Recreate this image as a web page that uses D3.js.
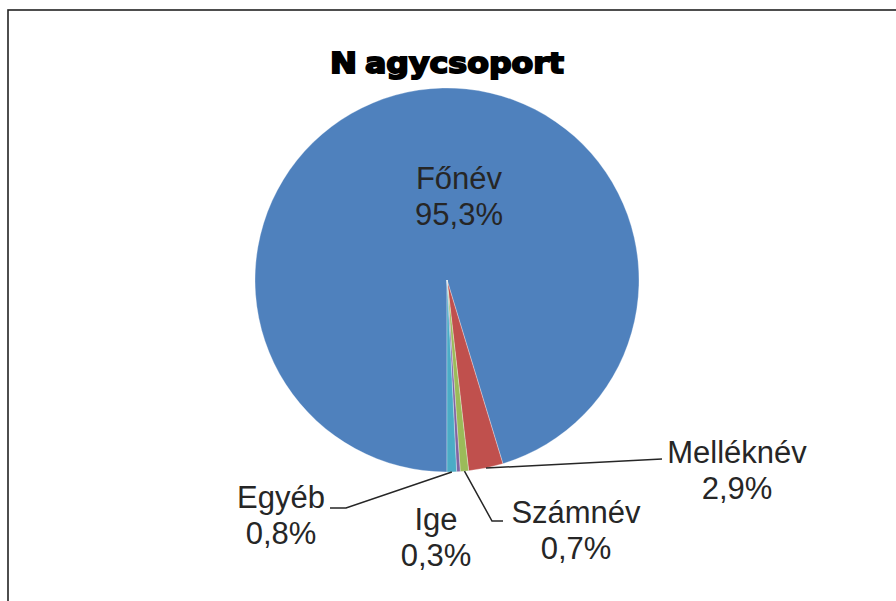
<!DOCTYPE html>
<html>
<head>
<meta charset="utf-8">
<script src="https://cdn.jsdelivr.net/npm/d3@7"></script>
<style>
  body { margin: 0; background: #fff; }
  svg { display: block; }
  .lbl { font-family: "Liberation Sans", Arial, sans-serif; font-size: 31px; fill: #262626; }
</style>
</head>
<body>
<script>
var categories = ["Főnév", "Melléknév", "Számnév", "Ige", "Egyéb"];
var values = [95.3, 2.9, 0.7, 0.3, 0.8];
var colors = ["#4f81bd", "#c0504d", "#9bbb59", "#8064a2", "#4bacc6"];

var chartWidth = 896;
var chartHeight = 601;
var cx = 447, cy = 280, radius = 192;

// where each label sits (centre x, baseline of first line) and the leader path elbow
var labelPos = [
  {x: 459, y: 189, leader: null},
  {x: 737, y: 463, leader: [[662, 459]]},
  {x: 576, y: 523, leader: [[492, 521], [503, 521]]},
  {x: 436, y: 530, leader: null},
  {x: 281, y: 508, leader: [[346, 508], [330, 508]]}
];

var hu = d3.formatLocale({decimal: ",", thousands: " ", grouping: [3], currency: ["", " Ft"]});
var fmt = hu.format(".1f");

var svg = d3.select("body")
            .append("svg")
            .attr("width", chartWidth)
            .attr("height", chartHeight);

// frame (runs off the right and bottom edges)
svg.append("rect")
   .attr("x", 8)
   .attr("y", 10)
   .attr("width", 900)
   .attr("height", 600)
   .attr("fill", "none")
   .attr("stroke", "#222")
   .attr("stroke-width", 1.6);

// title
var title = svg.append("g")
               .attr("font-family", "'DejaVu Sans', sans-serif")
               .attr("font-weight", "bold")
               .attr("font-size", 28)
               .attr("fill", "#000")
               .attr("stroke", "#000")
               .attr("stroke-width", 1.8);
title.append("text")
     .attr("x", 330)
     .attr("y", 73)
     .attr("textLength", 27)
     .attr("lengthAdjust", "spacingAndGlyphs")
     .text("N");
title.append("text")
     .attr("x", 365)
     .attr("y", 73)
     .attr("textLength", 199)
     .attr("lengthAdjust", "spacingAndGlyphs")
     .text("agycsoport");

var pie = d3.pie()
            .sort(null)
            .value(function(d) { return d; })
            .startAngle(Math.PI)
            .endAngle(3 * Math.PI);

var arcs = pie(values);

var arc = d3.arc()
            .innerRadius(0)
            .outerRadius(radius);

var edge = d3.arc()
             .innerRadius(radius)
             .outerRadius(radius);

var chartGroup = svg.append("g")
                    .attr("transform", "translate(" + cx + "," + cy + ")");

chartGroup.selectAll("path.slice")
          .data(arcs)
          .enter()
          .append("path")
          .attr("class", "slice")
          .attr("d", arc)
          .attr("fill", function(d, i) { return colors[i]; })
          .attr("stroke", "#fff")
          .attr("stroke-opacity", 0.5)
          .attr("stroke-width", 0.6);

// leader lines
var line = d3.line();
svg.selectAll("path.leader")
   .data(arcs.filter(function(d, i) { return labelPos[i].leader; }))
   .enter()
   .append("path")
   .attr("class", "leader")
   .attr("d", function(d) {
     var i = d.index;
     var c = edge.centroid(d);
     var pts = [[cx + c[0], cy + c[1]]].concat(labelPos[i].leader);
     return line(pts);
   })
   .attr("fill", "none")
   .attr("stroke", "#262626")
   .attr("stroke-width", 1.5);

// labels
var labels = svg.selectAll("text.lbl")
                .data(arcs)
                .enter()
                .append("text")
                .attr("class", "lbl")
                .attr("text-anchor", "middle");

labels.append("tspan")
      .attr("x", function(d, i) { return labelPos[i].x; })
      .attr("y", function(d, i) { return labelPos[i].y; })
      .text(function(d, i) { return categories[i]; });

labels.append("tspan")
      .attr("x", function(d, i) { return labelPos[i].x; })
      .attr("y", function(d, i) { return labelPos[i].y + 36; })
      .text(function(d) { return fmt(d.value) + "%"; });
</script>
</body>
</html>
